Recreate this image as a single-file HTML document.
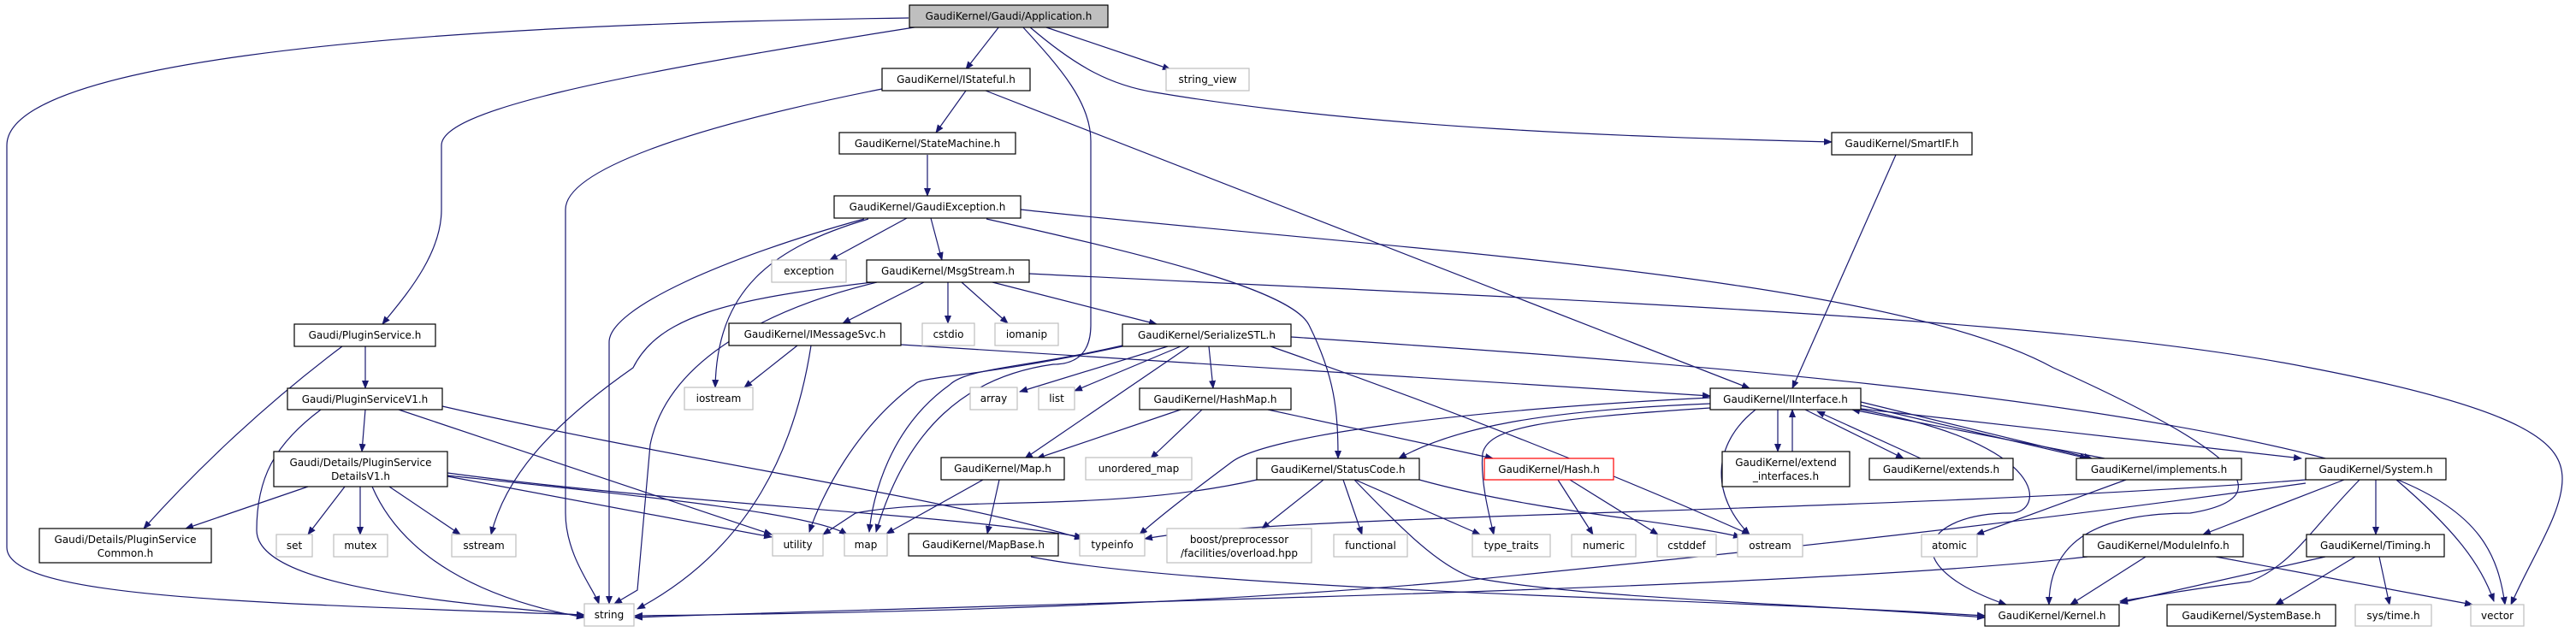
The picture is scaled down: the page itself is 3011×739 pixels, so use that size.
<!DOCTYPE html>
<html><head><meta charset="utf-8"><style>
html,body{margin:0;padding:0;background:#fff}
svg{display:block}
text{font-family:"DejaVu Sans","Liberation Sans",sans-serif;font-size:12px;fill:#000}
.e{fill:none;stroke:#191970;stroke-width:1.2}
.n{fill:#fff;stroke:#000;stroke-width:1.2}
.g{fill:#fff;stroke:#bfbfbf;stroke-width:1.2}
</style></head><body>
<svg width="3011" height="739" viewBox="0 0 3011 739" xmlns="http://www.w3.org/2000/svg">
<defs><marker id="a" markerWidth="10" markerHeight="8" refX="9" refY="4" orient="auto" markerUnits="userSpaceOnUse"><path d="M0,0 L10,4 L0,8 Z" fill="#191970"/></marker></defs>
<g class="e" marker-end="url(#a)">
<path d="M1062,21 C400,30 8,80 8,170 L8,640 C8,700 300,705 683,719"/>
<path d="M1075,31 C700,90 516,130 516,170 L516,245 C516,300 470,350 447,379"/>
<path d="M1168,31 L1129,81"/>
<path d="M1220,31 L1368,81"/>
<path d="M1203,31 C1260,80 1300,100 1350,108 C1600,150 1900,160 2141,166"/>
<path d="M1195,31 C1240,80 1275,120 1275,165 L1275,380 C1275,420 1250,426 1231,426 C1130,440 1060,500 1024,622"/>
<path d="M1031,104 C800,150 661,200 661,245 L661,600 C661,650 695,690 700,706"/>
<path d="M1129,106 L1094,155"/>
<path d="M1152,106 L2045,454"/>
<path d="M1084,181 L1084,229"/>
<path d="M1060,255 L970,304"/>
<path d="M1088,255 L1101,304"/>
<path d="M1015,256 C900,290 838,340 836,453"/>
<path d="M1010,256 C850,300 712,360 712,400 L712,706"/>
<path d="M1153,256 C1350,300 1510,340 1530,380 C1560,440 1564,480 1564,536"/>
<path d="M1193,245 C1600,290 2200,320 2400,430 C2600,520 2680,580 2560,600 C2440,600 2395,640 2395,707"/>
<path d="M1080,330 L985,378"/>
<path d="M1108,330 L1108,378"/>
<path d="M1124,330 L1178,378"/>
<path d="M1160,330 L1352,379"/>
<path d="M1203,320 C1800,350 2400,370 2700,430 C2960,480 2995,520 2995,560 C2995,600 2960,650 2935,707"/>
<path d="M1020,330 C850,350 770,370 740,430 C640,500 590,560 574,625"/>
<path d="M1025,330 C900,360 780,420 760,520 L745,690 L718,706"/>
<path d="M932,404 L870,453"/>
<path d="M948,404 C930,520 880,640 745,712"/>
<path d="M1053,403 L1999,463"/>
<path d="M1365,405 L1192,458"/>
<path d="M1380,405 L1256,457"/>
<path d="M1413,405 L1418,454"/>
<path d="M1390,405 L1198,536"/>
<path d="M1312,404 C1200,430 1130,430 1110,450 C1040,500 1020,580 1016,622"/>
<path d="M1312,405 C1150,440 1080,440 1071,448 C1000,500 960,580 946,622"/>
<path d="M1509,394 C1900,420 2500,460 2800,560 C2900,600 2920,650 2928,707"/>
<path d="M1485,405 C1700,480 1900,560 2045,625"/>
<path d="M1380,479 L1212,536"/>
<path d="M1405,479 L1345,536"/>
<path d="M1482,479 L1745,536"/>
<path d="M1149,561 L1036,624"/>
<path d="M1168,561 L1154,624"/>
<path d="M1205,651 C1400,690 2000,700 2320,720"/>
<path d="M1469,561 C1300,600 1100,580 1000,600 L962,625"/>
<path d="M1547,561 L1475,618"/>
<path d="M1570,561 L1592,625"/>
<path d="M1584,561 L1730,625"/>
<path d="M1583,561 C1640,620 1680,660 1720,675 C1850,700 2100,705 2320,722"/>
<path d="M1659,561 C1800,600 1950,608 2035,628"/>
<path d="M1821,561 L1862,625"/>
<path d="M1835,561 L1938,625"/>
<path d="M1999,472 C1800,480 1700,500 1635,536"/>
<path d="M1999,465 C1700,480 1480,510 1440,540 C1400,570 1360,600 1332,625"/>
<path d="M1999,477 C1800,490 1740,500 1733,530 C1730,560 1740,600 1746,625"/>
<path d="M2052,479 C2000,520 2000,580 2045,625"/>
<path d="M2078,479 L2078,528"/>
<path d="M2095,528 L2095,479"/>
<path d="M2110,479 L2225,536"/>
<path d="M2245,536 L2124,481"/>
<path d="M2175,470 L2445,536"/>
<path d="M2175,474 L2440,536"/>
<path d="M2460,536 L2165,479"/>
<path d="M2175,478 L2690,536"/>
<path d="M2175,479 C2400,520 2390,600 2350,600 C2250,600 2210,660 2345,707"/>
<path d="M2485,561 L2310,625"/>
<path d="M2695,561 C2200,600 1500,600 1338,630"/>
<path d="M2695,565 C2300,620 2000,650 1700,680 C1300,715 900,718 742,720"/>
<path d="M2740,561 L2575,625"/>
<path d="M2777,561 L2777,625"/>
<path d="M2801,561 C2870,620 2900,660 2915,703"/>
<path d="M2758,561 C2700,620 2680,660 2630,680 C2550,690 2500,700 2478,703"/>
<path d="M2440,651 C2100,690 1200,705 742,722"/>
<path d="M2508,651 L2420,707"/>
<path d="M2590,651 L2890,707"/>
<path d="M2718,651 L2478,705"/>
<path d="M2753,651 L2660,707"/>
<path d="M2781,651 L2793,707"/>
<path d="M2216,181 L2095,454"/>
<path d="M427,405 L427,454"/>
<path d="M400,405 C300,480 220,560 168,618"/>
<path d="M427,479 L423,528"/>
<path d="M375,479 C320,520 300,560 300,620 C300,690 550,705 683,720"/>
<path d="M466,479 L902,625"/>
<path d="M517,475 C800,540 1100,580 1265,630"/>
<path d="M360,569 L217,618"/>
<path d="M403,569 L360,625"/>
<path d="M421,569 L421,625"/>
<path d="M435,569 C470,650 560,700 683,722"/>
<path d="M455,569 L538,625"/>
<path d="M523,557 L902,628"/>
<path d="M523,556 C750,580 950,600 990,625"/>
<path d="M523,553 C800,590 1100,600 1265,628"/>
</g>
<g>
<rect class="n" x="1063" y="6" width="232" height="26" style="fill:#bfbfbf"/><text x="1179" y="23" text-anchor="middle">GaudiKernel/Gaudi/Application.h</text>
<rect class="n" x="1031" y="80" width="173" height="26"/><text x="1117.5" y="97" text-anchor="middle">GaudiKernel/IStateful.h</text>
<rect class="g" x="1363" y="80" width="97" height="26"/><text x="1411.5" y="97" text-anchor="middle">string_view</text>
<rect class="n" x="981" y="155" width="206" height="25"/><text x="1084" y="172" text-anchor="middle">GaudiKernel/StateMachine.h</text>
<rect class="n" x="2141" y="155" width="164" height="26"/><text x="2223" y="172" text-anchor="middle">GaudiKernel/SmartIF.h</text>
<rect class="n" x="975" y="229" width="218" height="26"/><text x="1084" y="246" text-anchor="middle">GaudiKernel/GaudiException.h</text>
<rect class="g" x="902" y="304" width="87" height="26"/><text x="945.5" y="321" text-anchor="middle">exception</text>
<rect class="n" x="1013" y="304" width="190" height="26"/><text x="1108" y="321" text-anchor="middle">GaudiKernel/MsgStream.h</text>
<rect class="n" x="344" y="379" width="165" height="26"/><text x="426.5" y="396" text-anchor="middle">Gaudi/PluginService.h</text>
<rect class="n" x="852" y="378" width="201" height="26"/><text x="952.5" y="395" text-anchor="middle">GaudiKernel/IMessageSvc.h</text>
<rect class="g" x="1078" y="378" width="61" height="26"/><text x="1108.5" y="395" text-anchor="middle">cstdio</text>
<rect class="g" x="1163" y="378" width="74" height="26"/><text x="1200" y="395" text-anchor="middle">iomanip</text>
<rect class="n" x="1312" y="379" width="197" height="26"/><text x="1410.5" y="396" text-anchor="middle">GaudiKernel/SerializeSTL.h</text>
<rect class="n" x="336" y="454" width="181" height="25"/><text x="426.5" y="471" text-anchor="middle">Gaudi/PluginServiceV1.h</text>
<rect class="g" x="800" y="453" width="80" height="26"/><text x="840" y="470" text-anchor="middle">iostream</text>
<rect class="g" x="1134" y="453" width="55" height="26"/><text x="1161.5" y="470" text-anchor="middle">array</text>
<rect class="g" x="1214" y="453" width="42" height="26"/><text x="1235" y="470" text-anchor="middle">list</text>
<rect class="n" x="1332" y="454" width="177" height="25"/><text x="1420.5" y="471" text-anchor="middle">GaudiKernel/HashMap.h</text>
<rect class="n" x="1999" y="454" width="176" height="25"/><text x="2087" y="471" text-anchor="middle">GaudiKernel/IInterface.h</text>
<rect class="n" x="320" y="528" width="203" height="41"/><text x="421.5" y="545" text-anchor="middle">Gaudi/Details/PluginService</text><text x="421.5" y="561" text-anchor="middle">DetailsV1.h</text>
<rect class="n" x="2013" y="528" width="149" height="41"/><text x="2087.5" y="545" text-anchor="middle">GaudiKernel/extend</text><text x="2087.5" y="561" text-anchor="middle">_interfaces.h</text>
<rect class="n" x="1100" y="535" width="144" height="26"/><text x="1172" y="552" text-anchor="middle">GaudiKernel/Map.h</text>
<rect class="g" x="1269" y="535" width="124" height="26"/><text x="1331" y="552" text-anchor="middle">unordered_map</text>
<rect class="n" x="1469" y="536" width="190" height="25"/><text x="1564" y="553" text-anchor="middle">GaudiKernel/StatusCode.h</text>
<rect class="n" x="1735" y="536" width="151" height="25" style="stroke:#ff0000"/><text x="1810.5" y="553" text-anchor="middle">GaudiKernel/Hash.h</text>
<rect class="n" x="2185" y="536" width="168" height="25"/><text x="2269" y="553" text-anchor="middle">GaudiKernel/extends.h</text>
<rect class="n" x="2427" y="536" width="193" height="25"/><text x="2523.5" y="553" text-anchor="middle">GaudiKernel/implements.h</text>
<rect class="n" x="2695" y="536" width="164" height="25"/><text x="2777" y="553" text-anchor="middle">GaudiKernel/System.h</text>
<rect class="n" x="46" y="618" width="201" height="40"/><text x="146.5" y="635" text-anchor="middle">Gaudi/Details/PluginService</text><text x="146.5" y="651" text-anchor="middle">Common.h</text>
<rect class="g" x="323" y="625" width="42" height="26"/><text x="344" y="642" text-anchor="middle">set</text>
<rect class="g" x="390" y="625" width="63" height="26"/><text x="421.5" y="642" text-anchor="middle">mutex</text>
<rect class="g" x="528" y="625" width="75" height="26"/><text x="565.5" y="642" text-anchor="middle">sstream</text>
<rect class="g" x="903" y="624" width="59" height="26"/><text x="932.5" y="641" text-anchor="middle">utility</text>
<rect class="g" x="987" y="624" width="50" height="26"/><text x="1012" y="641" text-anchor="middle">map</text>
<rect class="n" x="1062" y="624" width="175" height="26"/><text x="1149.5" y="641" text-anchor="middle">GaudiKernel/MapBase.h</text>
<rect class="g" x="1262" y="624" width="76" height="26"/><text x="1300" y="641" text-anchor="middle">typeinfo</text>
<rect class="g" x="1364" y="618" width="169" height="40"/><text x="1448.5" y="635" text-anchor="middle">boost/preprocessor</text><text x="1448.5" y="651" text-anchor="middle">/facilities/overload.hpp</text>
<rect class="g" x="1559" y="625" width="86" height="26"/><text x="1602" y="642" text-anchor="middle">functional</text>
<rect class="g" x="1721" y="625" width="91" height="26"/><text x="1766.5" y="642" text-anchor="middle">type_traits</text>
<rect class="g" x="1837" y="625" width="75" height="26"/><text x="1874.5" y="642" text-anchor="middle">numeric</text>
<rect class="g" x="1937" y="625" width="69" height="26"/><text x="1971.5" y="642" text-anchor="middle">cstddef</text>
<rect class="g" x="2031" y="625" width="76" height="26"/><text x="2069" y="642" text-anchor="middle">ostream</text>
<rect class="g" x="2246" y="625" width="65" height="26"/><text x="2278.5" y="642" text-anchor="middle">atomic</text>
<rect class="n" x="2435" y="625" width="187" height="26"/><text x="2528.5" y="642" text-anchor="middle">GaudiKernel/ModuleInfo.h</text>
<rect class="n" x="2696" y="625" width="161" height="26"/><text x="2776.5" y="642" text-anchor="middle">GaudiKernel/Timing.h</text>
<rect class="g" x="683" y="706" width="58" height="26"/><text x="712" y="723" text-anchor="middle">string</text>
<rect class="n" x="2320" y="707" width="157" height="25"/><text x="2398.5" y="724" text-anchor="middle">GaudiKernel/Kernel.h</text>
<rect class="n" x="2533" y="707" width="197" height="25"/><text x="2631.5" y="724" text-anchor="middle">GaudiKernel/SystemBase.h</text>
<rect class="g" x="2753" y="707" width="89" height="25"/><text x="2797.5" y="724" text-anchor="middle">sys/time.h</text>
<rect class="g" x="2888" y="707" width="62" height="25"/><text x="2919" y="724" text-anchor="middle">vector</text>
</g>
</svg>
</body></html>
